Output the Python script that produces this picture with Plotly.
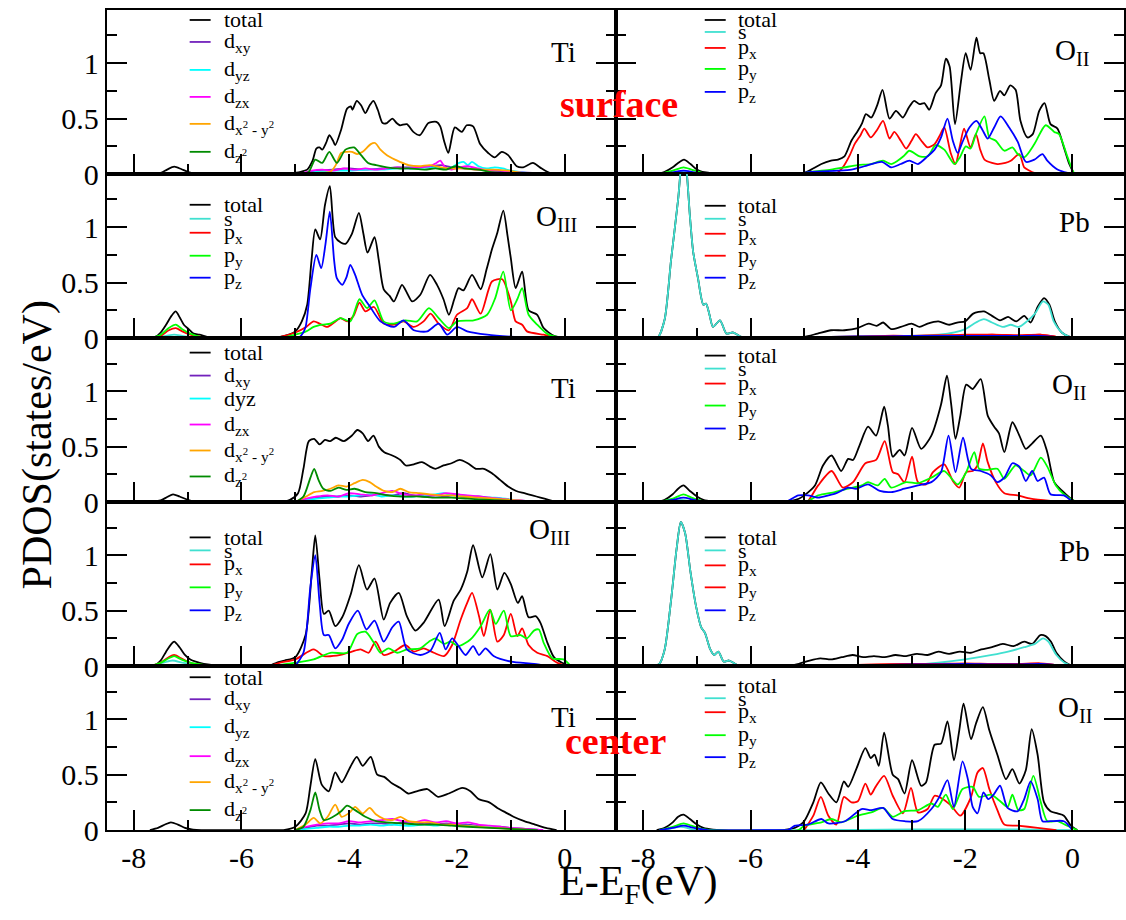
import plotly.graph_objects as go

W, H = 1126, 920
H_EFF = 905  # effective vertical pixel span observed for the paper coordinates

# ---------------- data (energy in eV, PDOS in states/eV) ----------------
# Ti surface
TI_SURF_TOTAL = [(-7.7,0),(-7.5,0.01),(-7.38,0.04),(-7.25,0.066),(-7.12,0.045),(-7.0,0.02),(-6.85,0.005),(-6.7,0),
 (-5.2,0),(-5.03,0.01),(-4.9,0.02),(-4.78,0.04),(-4.68,0.12),(-4.61,0.23),(-4.55,0.24),(-4.5,0.22),(-4.43,0.28),(-4.37,0.35),
 (-4.3,0.3),(-4.26,0.26),(-4.15,0.4),(-4.04,0.59),(-3.97,0.61),(-3.94,0.58),(-3.86,0.66),(-3.78,0.62),(-3.7,0.55),(-3.62,0.62),
 (-3.55,0.66),(-3.47,0.58),(-3.38,0.46),(-3.3,0.46),(-3.2,0.5),(-3.12,0.46),(-3.06,0.44),(-2.93,0.45),(-2.81,0.38),(-2.69,0.35),
 (-2.53,0.46),(-2.38,0.47),(-2.31,0.43),(-2.24,0.3),(-2.16,0.19),(-2.04,0.42),(-1.91,0.38),(-1.82,0.44),(-1.7,0.43),(-1.57,0.27),
 (-1.42,0.19),(-1.3,0.15),(-1.17,0.2),(-1.05,0.17),(-0.89,0.07),(-0.77,0.06),(-0.59,0.1),(-0.46,0.06),(-0.28,0.01),(-0.1,0)]
TI_SURF_DXY = [(-4.9,0),(-4.6,0.03),(-4.3,0.04),(-4.0,0.05),(-3.7,0.04),(-3.4,0.05),(-3.1,0.06),(-2.8,0.06),(-2.5,0.07),
 (-2.3,0.08),(-2.1,0.06),(-1.9,0.05),(-1.6,0.04),(-1.3,0.03),(-1.0,0.02),(-0.6,0.01),(-0.3,0)]
TI_SURF_DYZ = [(-4.9,0),(-4.6,0.02),(-4.3,0.03),(-4.0,0.03),(-3.7,0.04),(-3.4,0.04),(-3.1,0.05),(-2.8,0.05),(-2.5,0.06),
 (-2.3,0.05),(-2.1,0.06),(-1.96,0.1),(-1.88,0.11),(-1.8,0.08),(-1.72,0.11),(-1.6,0.07),(-1.45,0.05),(-1.3,0.06),(-1.15,0.05),
 (-1.0,0.03),(-0.7,0.01),(-0.4,0)]
TI_SURF_DZX = [(-4.9,0),(-4.7,0.03),(-4.5,0.04),(-4.3,0.03),(-4.1,0.05),(-3.9,0.04),(-3.7,0.05),(-3.5,0.04),(-3.3,0.05),
 (-3.1,0.06),(-2.9,0.05),(-2.7,0.06),(-2.5,0.07),(-2.38,0.1),(-2.31,0.12),(-2.22,0.06),(-2.1,0.04),(-1.95,0.06),(-1.8,0.07),
 (-1.6,0.05),(-1.4,0.03),(-1.2,0.03),(-1.0,0.02),(-0.7,0.01),(-0.4,0)]
TI_SURF_DX2 = [(-4.85,0),(-4.6,0.01),(-4.35,0.02),(-4.25,0.08),(-4.15,0.19),(-4.05,0.2),(-3.95,0.2),(-3.85,0.18),(-3.75,0.2),
 (-3.6,0.27),(-3.52,0.28),(-3.42,0.22),(-3.3,0.17),(-3.15,0.13),(-3.06,0.11),(-2.9,0.08),(-2.7,0.07),(-2.5,0.08),(-2.3,0.06),
 (-2.1,0.05),(-1.9,0.05),(-1.6,0.04),(-1.3,0.04),(-1.05,0.03),(-0.8,0.01),(-0.5,0)]
TI_SURF_DZ2 = [(-4.85,0),(-4.75,0.02),(-4.63,0.13),(-4.5,0.1),(-4.37,0.2),(-4.23,0.1),(-4.07,0.22),(-3.91,0.24),(-3.78,0.17),
 (-3.65,0.1),(-3.5,0.08),(-3.3,0.06),(-3.1,0.05),(-2.9,0.05),(-2.6,0.04),(-2.4,0.05),(-2.2,0.04),(-2.03,0.07),(-1.85,0.05),
 (-1.6,0.04),(-1.4,0.02),(-1.1,0.01),(-0.8,0.005),(-0.5,0)]

# O_II surface
OII_SURF_TOTAL = [(-7.75,0),(-7.6,0.02),(-7.45,0.06),(-7.35,0.1),(-7.24,0.13),(-7.12,0.09),(-7.0,0.04),(-6.9,0.02),(-6.75,0.01),(-6.6,0),
 (-5.2,0),(-5.0,0.01),(-4.87,0.04),(-4.68,0.09),(-4.5,0.12),(-4.37,0.13),(-4.25,0.16),(-4.12,0.3),(-4.0,0.39),(-3.92,0.46),
 (-3.85,0.54),(-3.75,0.51),(-3.64,0.62),(-3.54,0.76),(-3.41,0.5),(-3.29,0.57),(-3.16,0.51),(-3.05,0.6),(-2.95,0.66),(-2.85,0.63),
 (-2.76,0.64),(-2.67,0.58),(-2.55,0.73),(-2.45,0.8),(-2.36,1.04),(-2.29,0.97),(-2.19,0.45),(-2.08,0.83),(-1.99,1.09),(-1.9,0.94),
 (-1.79,1.23),(-1.72,1.09),(-1.66,1.09),(-1.55,0.85),(-1.46,0.66),(-1.35,0.75),(-1.27,0.71),(-1.16,0.8),(-1.06,0.76),(-0.97,0.48),
 (-0.84,0.33),(-0.74,0.36),(-0.62,0.57),(-0.52,0.64),(-0.41,0.45),(-0.28,0.41),(-0.16,0.24),(-0.06,0.09),(0.03,0)]
OII_SURF_S = [(-7.6,0),(-7.3,0.02),(-7.0,0),(-5.0,0),(-3.0,0.005),(-1.0,0.005),(0.0,0)]
OII_SURF_PX = [(-4.4,0),(-4.28,0.06),(-4.15,0.17),(-4.06,0.27),(-3.95,0.35),(-3.88,0.41),(-3.76,0.33),(-3.64,0.4),(-3.53,0.48),
 (-3.41,0.32),(-3.32,0.38),(-3.2,0.3),(-3.1,0.23),(-3.0,0.3),(-2.92,0.36),(-2.8,0.29),(-2.7,0.24),(-2.57,0.27),(-2.47,0.35),
 (-2.39,0.42),(-2.27,0.19),(-2.18,0.09),(-2.1,0.25),(-2.02,0.41),(-1.9,0.24),(-1.8,0.36),(-1.72,0.22),(-1.64,0.13),(-1.5,0.1),
 (-1.4,0.09),(-1.25,0.1),(-1.15,0.12),(-0.99,0.18),(-0.9,0.06),(-0.8,0.03),(-0.71,0.01),(-0.5,0)]
OII_SURF_PY = [(-7.7,0),(-7.45,0.03),(-7.25,0.06),(-7.1,0.04),(-6.9,0.01),(-6.7,0),(-5.1,0),(-4.87,0.02),(-4.5,0.04),(-4.25,0.06),
 (-4.0,0.08),(-3.76,0.09),(-3.53,0.12),(-3.38,0.09),(-3.26,0.12),(-3.15,0.16),(-3.04,0.21),(-2.85,0.16),(-2.7,0.16),(-2.55,0.26),
 (-2.39,0.22),(-2.2,0.09),(-2.1,0.15),(-1.99,0.25),(-1.9,0.23),(-1.8,0.36),(-1.64,0.52),(-1.55,0.33),(-1.43,0.3),(-1.27,0.21),
 (-1.12,0.24),(-1.02,0.18),(-0.9,0.15),(-0.71,0.27),(-0.5,0.44),(-0.34,0.38),(-0.25,0.36),(-0.09,0.15),(0.03,0.01),(0.1,0)]
OII_SURF_PZ = [(-7.7,0),(-7.45,0.015),(-7.25,0.03),(-7.05,0.015),(-6.8,0),(-5.15,0),(-4.87,0.02),(-4.37,0.03),(-4.12,0.04),
 (-3.88,0.07),(-3.55,0.11),(-3.38,0.06),(-3.2,0.09),(-3.04,0.12),(-2.88,0.09),(-2.7,0.16),(-2.57,0.22),(-2.45,0.33),(-2.33,0.5),
 (-2.23,0.3),(-2.14,0.19),(-2.05,0.29),(-1.92,0.42),(-1.79,0.48),(-1.68,0.4),(-1.58,0.32),(-1.46,0.42),(-1.34,0.52),(-1.18,0.42),
 (-1.02,0.29),(-0.87,0.11),(-0.71,0.13),(-0.56,0.18),(-0.47,0.12),(-0.28,0.04),(-0.09,0.01),(0.05,0)]

# O_III surface
OIII_SURF_TOTAL = [(-7.7,0),(-7.6,0.01),(-7.5,0.05),(-7.4,0.12),(-7.3,0.2),(-7.22,0.24),(-7.14,0.18),(-7.07,0.12),(-6.98,0.08),
 (-6.89,0.04),(-6.78,0.03),(-6.64,0.01),(-6.5,0),
 (-5.5,0),(-5.28,0.01),(-5.0,0.06),(-4.88,0.15),(-4.78,0.3),(-4.7,0.7),(-4.63,0.98),(-4.54,0.89),(-4.45,1.2),(-4.36,1.37),
 (-4.26,0.91),(-4.15,0.86),(-4.07,0.85),(-3.95,0.94),(-3.82,1.13),(-3.74,0.95),(-3.66,0.77),(-3.53,0.91),(-3.45,0.7),(-3.36,0.44),
 (-3.25,0.38),(-3.17,0.33),(-3.02,0.48),(-2.92,0.4),(-2.83,0.33),(-2.68,0.39),(-2.5,0.57),(-2.37,0.48),(-2.25,0.35),(-2.15,0.21),
 (-2.05,0.35),(-1.97,0.45),(-1.88,0.43),(-1.72,0.57),(-1.56,0.44),(-1.45,0.62),(-1.35,0.8),(-1.25,0.95),(-1.14,1.15),(-1.06,0.92),
 (-1.0,0.72),(-0.91,0.45),(-0.79,0.6),(-0.67,0.25),(-0.51,0.21),(-0.39,0.09),(-0.2,0.02),(0.0,0)]
OIII_SURF_S = [(-7.7,0),(-7.4,0.02),(-7.25,0.03),(-7.1,0.02),(-6.8,0),(-5.0,0),(-3.0,0.01),(-1.0,0.01),(0.0,0)]
OIII_SURF_PX = [(-7.7,0),(-7.5,0.02),(-7.35,0.07),(-7.22,0.09),(-7.1,0.06),(-6.95,0.03),(-6.75,0.01),(-6.55,0),(-5.5,0),
 (-5.28,0.01),(-5.0,0.05),(-4.8,0.1),(-4.66,0.15),(-4.55,0.13),(-4.41,0.1),(-4.28,0.14),(-4.16,0.18),(-4.04,0.15),(-3.92,0.2),
 (-3.81,0.32),(-3.7,0.24),(-3.54,0.28),(-3.36,0.13),(-3.17,0.12),(-2.99,0.15),(-2.8,0.1),(-2.62,0.15),(-2.49,0.22),(-2.34,0.13),
 (-2.15,0.07),(-2.0,0.21),(-1.81,0.27),(-1.72,0.35),(-1.56,0.22),(-1.35,0.51),(-1.16,0.53),(-1.0,0.33),(-0.91,0.15),(-0.79,0.12),
 (-0.7,0.06),(-0.39,0.03),(-0.1,0.005),(0.1,0)]
OIII_SURF_PY = [(-7.7,0),(-7.5,0.03),(-7.35,0.09),(-7.22,0.12),(-7.1,0.08),(-6.95,0.04),(-6.75,0.01),(-6.55,0),(-5.5,0),
 (-5.28,0.0),(-5.0,0.03),(-4.8,0.06),(-4.66,0.1),(-4.5,0.12),(-4.35,0.13),(-4.16,0.18),(-3.98,0.15),(-3.81,0.35),(-3.67,0.27),
 (-3.53,0.34),(-3.36,0.15),(-3.17,0.13),(-2.96,0.16),(-2.74,0.15),(-2.52,0.27),(-2.34,0.18),(-2.15,0.09),(-2.0,0.15),(-1.69,0.16),
 (-1.44,0.21),(-1.29,0.36),(-1.14,0.6),(-1.0,0.25),(-0.88,0.35),(-0.79,0.45),(-0.67,0.21),(-0.51,0.12),(-0.33,0.04),(-0.14,0.01),(0.05,0)]
OIII_SURF_PZ = [(-7.6,0),(-7.3,0.01),(-7.0,0),(-4.95,0),(-4.88,0.03),(-4.81,0.1),(-4.72,0.45),(-4.61,0.75),(-4.52,0.63),
 (-4.44,0.85),(-4.36,1.14),(-4.28,0.7),(-4.23,0.54),(-4.13,0.48),(-4.05,0.55),(-3.98,0.66),(-3.89,0.57),(-3.76,0.39),(-3.61,0.28),
 (-3.42,0.15),(-3.17,0.1),(-2.99,0.16),(-2.8,0.07),(-2.55,0.06),(-2.34,0.13),(-2.18,0.03),(-2.0,0.1),(-1.81,0.06),(-1.44,0.03),
 (-0.94,0.01),(-0.5,0)]

# Pb surface
PB_SURF_TOTAL = [(-7.8,0),(-7.72,0.01),(-7.6,0.17),(-7.48,0.71),(-7.35,1.25),(-7.26,1.7),(-7.2,1.55),(-7.13,1.1),(-7.07,0.78),
 (-6.98,0.54),(-6.88,0.3),(-6.83,0.31),(-6.77,0.22),(-6.7,0.1),(-6.57,0.16),(-6.45,0.04),(-6.33,0.05),(-6.17,0.01),(-6.0,0),
 (-5.2,0),(-5.0,0.01),(-4.75,0.04),(-4.5,0.07),(-4.25,0.07),(-4.0,0.09),(-3.8,0.13),(-3.65,0.11),(-3.53,0.14),(-3.38,0.08),
 (-3.2,0.1),(-3.0,0.13),(-2.85,0.1),(-2.7,0.13),(-2.5,0.15),(-2.3,0.12),(-2.15,0.14),(-2.0,0.15),(-1.85,0.22),(-1.65,0.24),
 (-1.5,0.2),(-1.35,0.16),(-1.2,0.19),(-1.05,0.15),(-0.9,0.2),(-0.78,0.14),(-0.65,0.28),(-0.53,0.36),(-0.43,0.3),(-0.33,0.15),
 (-0.2,0.05),(-0.05,0.01),(0.05,0)]
PB_SURF_S = [(-7.8,0),(-7.72,0.01),(-7.6,0.17),(-7.48,0.71),(-7.35,1.25),(-7.26,1.7),(-7.2,1.55),(-7.13,1.1),(-7.07,0.78),
 (-6.98,0.54),(-6.88,0.3),(-6.83,0.31),(-6.77,0.22),(-6.7,0.1),(-6.57,0.16),(-6.45,0.04),(-6.33,0.05),(-6.17,0.01),(-6.0,0),
 (-5.0,0),(-4.5,0.01),(-4.0,0.015),(-3.5,0.02),(-3.0,0.02),(-2.5,0.03),(-2.2,0.05),(-2.0,0.08),(-1.8,0.14),(-1.65,0.17),
 (-1.5,0.14),(-1.3,0.1),(-1.15,0.12),(-1.0,0.1),(-0.85,0.15),(-0.7,0.22),(-0.55,0.33),(-0.45,0.3),(-0.35,0.15),(-0.2,0.05),
 (-0.05,0.01),(0.05,0)]
PB_SURF_PX = [(-5.0,0),(-4.5,0.01),(-4.0,0.01),(-3.5,0.02),(-3.0,0.02),(-2.5,0.02),(-2.0,0.03),(-1.5,0.03),(-1.0,0.02),
 (-0.6,0.03),(-0.3,0.01),(0.0,0)]
PB_SURF_PY = [(-5.0,0),(-4.5,0.01),(-4.0,0.015),(-3.5,0.015),(-3.0,0.02),(-2.5,0.025),(-2.0,0.02),(-1.5,0.03),(-1.0,0.025),
 (-0.6,0.03),(-0.3,0.01),(0.0,0)]
PB_SURF_PZ = [(-5.0,0),(-4.5,0.01),(-4.0,0.015),(-3.5,0.015),(-3.0,0.02),(-2.5,0.02),(-2.0,0.02),(-1.5,0.02),(-1.0,0.02),
 (-0.6,0.02),(-0.3,0.01),(0.0,0)]

# Ti middle
TI_MID_TOTAL = [(-7.7,0),(-7.5,0.015),(-7.38,0.045),(-7.27,0.07),(-7.15,0.05),(-7.0,0.02),(-6.85,0.005),(-6.7,0),
 (-5.3,0),(-5.1,0.02),(-4.95,0.08),(-4.85,0.3),(-4.75,0.55),(-4.65,0.57),(-4.55,0.52),(-4.45,0.56),(-4.35,0.55),(-4.25,0.58),
 (-4.1,0.55),(-3.95,0.6),(-3.85,0.65),(-3.75,0.62),(-3.65,0.55),(-3.55,0.6),(-3.45,0.5),(-3.35,0.45),(-3.2,0.42),(-3.05,0.38),
 (-2.95,0.33),(-2.8,0.34),(-2.65,0.36),(-2.5,0.32),(-2.4,0.3),(-2.25,0.33),(-2.1,0.35),(-1.95,0.38),(-1.8,0.35),(-1.65,0.3),
 (-1.5,0.3),(-1.35,0.26),(-1.2,0.2),(-1.05,0.14),(-0.9,0.1),(-0.75,0.08),(-0.6,0.06),(-0.45,0.04),(-0.3,0.02),(-0.15,0)]
TI_MID_DXY = [(-5.0,0),(-4.8,0.02),(-4.6,0.04),(-4.4,0.05),(-4.2,0.05),(-4.0,0.06),(-3.8,0.05),(-3.6,0.06),(-3.4,0.07),
 (-3.2,0.06),(-3.0,0.08),(-2.8,0.06),(-2.6,0.05),(-2.4,0.06),(-2.2,0.05),(-2.0,0.07),(-1.8,0.05),(-1.6,0.05),(-1.4,0.04),
 (-1.2,0.03),(-1.0,0.02),(-0.7,0.01),(-0.4,0)]
TI_MID_DYZ = [(-5.0,0),(-4.8,0.02),(-4.6,0.03),(-4.4,0.04),(-4.2,0.05),(-4.0,0.05),(-3.8,0.06),(-3.6,0.07),(-3.4,0.05),
 (-3.2,0.06),(-3.0,0.05),(-2.8,0.05),(-2.6,0.06),(-2.4,0.07),(-2.25,0.08),(-2.1,0.06),(-1.9,0.06),(-1.7,0.05),(-1.5,0.04),
 (-1.3,0.04),(-1.1,0.03),(-0.8,0.01),(-0.5,0)]
TI_MID_DZX = [(-5.0,0),(-4.8,0.03),(-4.6,0.05),(-4.4,0.06),(-4.2,0.05),(-4.0,0.08),(-3.8,0.07),(-3.6,0.06),(-3.4,0.08),
 (-3.2,0.1),(-3.0,0.07),(-2.8,0.06),(-2.6,0.07),(-2.4,0.06),(-2.2,0.08),(-2.0,0.07),(-1.8,0.06),(-1.6,0.05),(-1.4,0.04),
 (-1.2,0.03),(-1.0,0.02),(-0.7,0.01),(-0.4,0)]
TI_MID_DX2 = [(-5.0,0),(-4.8,0.05),(-4.65,0.09),(-4.5,0.1),(-4.35,0.12),(-4.2,0.15),(-4.05,0.14),(-3.9,0.17),(-3.75,0.2),
 (-3.62,0.18),(-3.5,0.14),(-3.35,0.1),(-3.2,0.09),(-3.05,0.12),(-2.9,0.09),(-2.7,0.08),(-2.5,0.07),(-2.3,0.06),(-2.1,0.06),
 (-1.9,0.05),(-1.6,0.04),(-1.3,0.03),(-1.0,0.02),(-0.6,0.005),(-0.3,0)]
TI_MID_DZ2 = [(-5.0,0),(-4.85,0.05),(-4.72,0.22),(-4.65,0.3),(-4.57,0.2),(-4.48,0.12),(-4.35,0.1),(-4.2,0.13),(-4.05,0.11),
 (-3.9,0.12),(-3.7,0.09),(-3.5,0.08),(-3.3,0.06),(-3.0,0.05),(-2.7,0.05),(-2.4,0.04),(-2.1,0.04),(-1.8,0.03),(-1.4,0.02),
 (-1.0,0.01),(-0.5,0)]

# O_II middle
OII_MID_TOTAL = [(-7.75,0),(-7.6,0.02),(-7.45,0.07),(-7.35,0.12),(-7.25,0.15),(-7.13,0.1),(-7.0,0.05),(-6.88,0.02),(-6.7,0.005),(-6.55,0),
 (-5.4,0),(-5.24,0.01),(-5.1,0.03),(-5.0,0.06),(-4.8,0.15),(-4.65,0.33),(-4.49,0.42),(-4.31,0.28),(-4.18,0.39),(-4.09,0.38),
 (-3.97,0.51),(-3.81,0.68),(-3.66,0.6),(-3.51,0.86),(-3.44,0.69),(-3.35,0.41),(-3.22,0.47),(-3.13,0.42),(-2.99,0.67),(-2.82,0.48),
 (-2.63,0.6),(-2.45,0.88),(-2.34,1.14),(-2.26,0.88),(-2.18,0.57),(-2.09,0.78),(-1.98,1.06),(-1.86,1.02),(-1.71,1.11),(-1.58,0.78),
 (-1.46,0.68),(-1.37,0.62),(-1.27,0.45),(-1.12,0.72),(-0.99,0.6),(-0.87,0.48),(-0.75,0.53),(-0.59,0.6),(-0.47,0.45),(-0.34,0.18),
 (-0.19,0.1),(-0.03,0.03),(0.06,0)]
OII_MID_S = [(-7.6,0),(-7.3,0.02),(-7.0,0),(-5.0,0),(-3.0,0.005),(-1.0,0.005),(0.0,0)]
OII_MID_PX = [(-5.0,0),(-4.93,0.01),(-4.74,0.15),(-4.49,0.28),(-4.28,0.13),(-4.09,0.18),(-3.86,0.35),(-3.66,0.38),(-3.5,0.55),
 (-3.35,0.27),(-3.25,0.25),(-3.13,0.18),(-2.99,0.41),(-2.88,0.18),(-2.73,0.16),(-2.6,0.27),(-2.39,0.34),(-2.23,0.19),(-2.11,0.13),
 (-1.98,0.27),(-1.86,0.28),(-1.77,0.33),(-1.67,0.53),(-1.58,0.36),(-1.43,0.18),(-1.27,0.08),(-1.02,0.06),(-0.78,0.03),(-0.41,0.01),(-0.1,0)]
OII_MID_PY = [(-7.7,0),(-7.45,0.03),(-7.25,0.07),(-7.1,0.04),(-6.9,0.01),(-6.7,0),(-5.1,0),(-4.93,0.01),(-4.74,0.06),(-4.43,0.09),
 (-4.18,0.12),(-3.93,0.15),(-3.81,0.18),(-3.63,0.15),(-3.5,0.21),(-3.38,0.13),(-3.1,0.18),(-2.88,0.17),(-2.63,0.22),(-2.39,0.28),
 (-2.14,0.16),(-1.98,0.27),(-1.83,0.45),(-1.74,0.3),(-1.61,0.29),(-1.4,0.3),(-1.27,0.21),(-1.06,0.33),(-0.9,0.28),(-0.78,0.24),
 (-0.59,0.4),(-0.47,0.32),(-0.31,0.15),(-0.16,0.07),(0.03,0.01),(0.1,0)]
OII_MID_PZ = [(-7.7,0),(-7.45,0.02),(-7.25,0.04),(-7.05,0.02),(-6.8,0),(-5.4,0),(-5.3,0.01),(-5.11,0.06),(-4.93,0.06),(-4.74,0.04),
 (-4.55,0.06),(-4.4,0.08),(-4.18,0.13),(-4.03,0.12),(-3.81,0.16),(-3.59,0.1),(-3.38,0.09),(-3.13,0.12),(-2.88,0.15),(-2.63,0.18),
 (-2.45,0.27),(-2.31,0.6),(-2.18,0.27),(-2.04,0.58),(-1.89,0.3),(-1.71,0.28),(-1.52,0.24),(-1.4,0.18),(-1.27,0.22),(-1.12,0.35),
 (-0.99,0.32),(-0.87,0.19),(-0.75,0.28),(-0.65,0.19),(-0.53,0.22),(-0.41,0.07),(-0.16,0.06),(0.0,0)]

# O_III middle
OIII_MID_TOTAL = [(-7.7,0),(-7.6,0.01),(-7.5,0.05),(-7.4,0.13),(-7.3,0.2),(-7.25,0.22),(-7.15,0.17),(-7.05,0.1),(-6.95,0.06),
 (-6.85,0.04),(-6.7,0.02),(-6.55,0.01),(-6.4,0),
 (-5.5,0),(-5.35,0.03),(-5.2,0.05),(-5.0,0.08),(-4.81,0.28),(-4.69,0.88),(-4.63,1.18),(-4.55,0.78),(-4.47,0.47),(-4.38,0.5),
 (-4.26,0.36),(-4.13,0.44),(-3.97,0.65),(-3.82,0.91),(-3.67,0.69),(-3.53,0.79),(-3.36,0.42),(-3.24,0.57),(-3.08,0.66),(-2.93,0.45),
 (-2.77,0.32),(-2.62,0.39),(-2.34,0.6),(-2.23,0.36),(-2.06,0.59),(-1.93,0.69),(-1.81,0.85),(-1.7,1.09),(-1.53,0.8),(-1.38,1.01),
 (-1.25,0.69),(-1.12,0.84),(-1.0,0.74),(-0.87,0.57),(-0.79,0.63),(-0.67,0.44),(-0.54,0.45),(-0.45,0.39),(-0.32,0.21),(-0.2,0.08),
 (-0.05,0.03),(0.11,0)]
OIII_MID_S = [(-7.7,0),(-7.45,0.03),(-7.28,0.05),(-7.1,0.03),(-6.85,0.01),(-6.6,0),(-5.0,0),(-3.0,0.01),(-1.0,0.01),(0.0,0)]
OIII_MID_PX = [(-7.7,0),(-7.5,0.03),(-7.35,0.08),(-7.25,0.1),(-7.12,0.07),(-6.95,0.03),(-6.7,0.01),(-6.5,0),(-5.5,0),(-5.28,0.03),
 (-5.0,0.06),(-4.66,0.15),(-4.47,0.09),(-4.16,0.1),(-3.95,0.13),(-3.79,0.15),(-3.64,0.12),(-3.51,0.22),(-3.36,0.1),(-3.17,0.13),
 (-2.96,0.19),(-2.8,0.13),(-2.62,0.16),(-2.43,0.12),(-2.24,0.09),(-2.09,0.19),(-1.93,0.42),(-1.81,0.57),(-1.72,0.66),(-1.59,0.45),
 (-1.5,0.27),(-1.38,0.51),(-1.25,0.22),(-1.13,0.28),(-1.0,0.47),(-0.88,0.27),(-0.79,0.34),(-0.67,0.19),(-0.51,0.12),(-0.32,0.09),
 (-0.14,0.03),(0.05,0)]
OIII_MID_PY = [(-7.7,0),(-7.5,0.03),(-7.35,0.07),(-7.25,0.09),(-7.12,0.06),(-6.95,0.03),(-6.7,0.01),(-6.5,0),(-5.5,0),(-5.28,0.01),
 (-5.0,0.03),(-4.66,0.06),(-4.35,0.12),(-4.04,0.12),(-3.85,0.29),(-3.7,0.31),(-3.54,0.21),(-3.42,0.12),(-3.27,0.16),(-3.11,0.12),
 (-2.93,0.15),(-2.68,0.16),(-2.52,0.22),(-2.4,0.25),(-2.24,0.2),(-2.12,0.22),(-1.97,0.18),(-1.75,0.24),(-1.56,0.36),(-1.39,0.51),
 (-1.28,0.38),(-1.13,0.5),(-1.0,0.27),(-0.82,0.28),(-0.7,0.25),(-0.57,0.32),(-0.48,0.33),(-0.39,0.21),(-0.23,0.07),(-0.02,0.06),(0.11,0)]
OIII_MID_PZ = [(-7.6,0),(-7.3,0.01),(-7.0,0),(-5.1,0),(-5.0,0.01),(-4.85,0.12),(-4.72,0.72),(-4.63,1.0),(-4.55,0.57),(-4.47,0.28),
 (-4.38,0.28),(-4.26,0.16),(-4.13,0.24),(-4.01,0.38),(-3.84,0.5),(-3.68,0.33),(-3.53,0.41),(-3.36,0.22),(-3.2,0.35),(-3.08,0.4),
 (-2.93,0.15),(-2.68,0.1),(-2.49,0.14),(-2.32,0.3),(-2.21,0.15),(-2.09,0.25),(-1.97,0.18),(-1.84,0.1),(-1.7,0.18),(-1.59,0.1),
 (-1.47,0.16),(-1.32,0.09),(-1.0,0.04),(-0.57,0.02),(-0.3,0)]

# Pb middle
PB_MID_TOTAL = [(-7.8,0),(-7.7,0.02),(-7.6,0.15),(-7.48,0.6),(-7.38,1.05),(-7.3,1.3),(-7.22,1.2),(-7.12,0.85),(-7.02,0.55),
 (-6.92,0.35),(-6.85,0.3),(-6.75,0.15),(-6.68,0.1),(-6.6,0.13),(-6.5,0.04),(-6.4,0.05),(-6.25,0.01),(-6.1,0),
 (-5.3,0),(-5.1,0.02),(-4.9,0.05),(-4.7,0.07),(-4.5,0.06),(-4.3,0.08),(-4.1,0.1),(-3.9,0.08),(-3.7,0.09),(-3.5,0.08),(-3.3,0.1),
 (-3.1,0.09),(-2.9,0.11),(-2.7,0.1),(-2.5,0.13),(-2.3,0.11),(-2.1,0.13),(-1.9,0.12),(-1.7,0.15),(-1.5,0.17),(-1.3,0.2),(-1.1,0.18),
 (-0.9,0.22),(-0.75,0.2),(-0.6,0.28),(-0.5,0.27),(-0.4,0.22),(-0.3,0.12),(-0.15,0.04),(0.0,0)]
PB_MID_S = [(-7.8,0),(-7.7,0.02),(-7.6,0.15),(-7.48,0.6),(-7.38,1.05),(-7.3,1.3),(-7.22,1.2),(-7.12,0.85),(-7.02,0.55),
 (-6.92,0.35),(-6.85,0.3),(-6.75,0.15),(-6.68,0.1),(-6.6,0.13),(-6.5,0.04),(-6.4,0.05),(-6.25,0.01),(-6.1,0),
 (-3.0,0.01),(-2.5,0.03),(-2.0,0.06),(-1.5,0.1),(-1.2,0.13),(-0.9,0.17),(-0.7,0.2),(-0.55,0.25),(-0.45,0.22),(-0.3,0.1),
 (-0.15,0.03),(0.0,0)]
PB_MID_PX = [(-5.0,0),(-4.5,0.01),(-4.0,0.01),(-3.5,0.015),(-3.0,0.02),(-2.5,0.02),(-2.0,0.02),(-1.5,0.02),(-1.0,0.02),
 (-0.6,0.02),(-0.3,0.01),(0.0,0)]
PB_MID_PY = [(-5.0,0),(-4.5,0.01),(-4.0,0.01),(-3.5,0.015),(-3.0,0.02),(-2.5,0.02),(-2.0,0.025),(-1.5,0.02),(-1.0,0.02),
 (-0.6,0.025),(-0.3,0.01),(0.0,0)]
PB_MID_PZ = [(-5.0,0),(-4.5,0.005),(-4.0,0.01),(-3.5,0.01),(-3.0,0.015),(-2.5,0.015),(-2.0,0.02),(-1.5,0.015),(-1.0,0.015),
 (-0.6,0.02),(-0.3,0.01),(0.0,0)]

# Ti center
TI_CEN_TOTAL = [(-7.7,0),(-7.55,0.02),(-7.42,0.05),(-7.31,0.07),(-7.18,0.05),(-7.05,0.02),(-6.9,0.005),(-6.75,0),
 (-5.3,0),(-5.22,0.0),(-5.0,0.03),(-4.81,0.15),(-4.72,0.4),(-4.63,0.64),(-4.51,0.41),(-4.38,0.35),(-4.26,0.52),(-4.14,0.43),
 (-3.98,0.57),(-3.86,0.66),(-3.75,0.58),(-3.6,0.66),(-3.48,0.5),(-3.35,0.48),(-3.2,0.42),(-3.05,0.38),(-2.9,0.33),(-2.75,0.35),
 (-2.55,0.37),(-2.35,0.3),(-2.15,0.33),(-1.9,0.38),(-1.75,0.35),(-1.6,0.28),(-1.4,0.25),(-1.25,0.2),(-1.1,0.16),(-0.95,0.12),
 (-0.75,0.08),(-0.55,0.05),(-0.35,0.02),(-0.15,0)]
TI_CEN_DXY = [(-5.0,0),(-4.8,0.02),(-4.6,0.04),(-4.4,0.04),(-4.2,0.05),(-4.0,0.06),(-3.8,0.05),(-3.6,0.06),(-3.4,0.06),
 (-3.2,0.05),(-3.0,0.07),(-2.8,0.05),(-2.6,0.06),(-2.4,0.05),(-2.2,0.06),(-2.0,0.05),(-1.8,0.05),(-1.6,0.04),(-1.4,0.03),
 (-1.2,0.03),(-1.0,0.02),(-0.7,0.01),(-0.4,0)]
TI_CEN_DYZ = [(-5.0,0),(-4.8,0.01),(-4.6,0.02),(-4.4,0.03),(-4.2,0.03),(-4.0,0.04),(-3.8,0.04),(-3.6,0.05),(-3.4,0.04),
 (-3.2,0.05),(-3.0,0.04),(-2.8,0.04),(-2.6,0.05),(-2.4,0.04),(-2.2,0.05),(-2.0,0.04),(-1.8,0.04),(-1.6,0.03),(-1.4,0.03),
 (-1.2,0.02),(-1.0,0.01),(-0.6,0)]
TI_CEN_DZX = [(-5.0,0),(-4.8,0.03),(-4.6,0.05),(-4.4,0.06),(-4.2,0.06),(-4.0,0.08),(-3.8,0.07),(-3.6,0.08),(-3.4,0.09),
 (-3.2,0.1),(-3.0,0.08),(-2.8,0.07),(-2.6,0.09),(-2.4,0.07),(-2.2,0.08),(-2.0,0.06),(-1.8,0.07),(-1.6,0.05),(-1.4,0.04),
 (-1.2,0.03),(-1.0,0.02),(-0.7,0.01),(-0.4,0)]
TI_CEN_DX2 = [(-5.0,0),(-4.81,0.05),(-4.66,0.11),(-4.54,0.06),(-4.4,0.12),(-4.26,0.23),(-4.14,0.12),(-3.99,0.16),(-3.89,0.21),
 (-3.75,0.15),(-3.62,0.2),(-3.5,0.14),(-3.35,0.1),(-3.2,0.09),(-3.05,0.12),(-2.9,0.08),(-2.7,0.07),(-2.5,0.07),(-2.3,0.05),
 (-2.1,0.05),(-1.9,0.04),(-1.6,0.03),(-1.3,0.02),(-1.0,0.01),(-0.6,0)]
TI_CEN_DZ2 = [(-5.0,0),(-4.85,0.03),(-4.72,0.18),(-4.63,0.34),(-4.55,0.18),(-4.47,0.09),(-4.3,0.12),(-4.15,0.17),(-4.04,0.22),
 (-3.89,0.18),(-3.7,0.12),(-3.5,0.08),(-3.3,0.07),(-3.0,0.06),(-2.7,0.05),(-2.4,0.05),(-2.1,0.04),(-1.8,0.03),(-1.4,0.02),
 (-1.0,0.01),(-0.5,0)]

# O_II center
OII_CEN_TOTAL = [(-7.75,0),(-7.6,0.02),(-7.45,0.07),(-7.35,0.12),(-7.25,0.14),(-7.13,0.1),(-7.0,0.05),(-6.88,0.02),(-6.7,0.005),(-6.55,0),
 (-5.4,0),(-5.24,0.01),(-5.1,0.04),(-5.0,0.08),(-4.83,0.25),(-4.69,0.43),(-4.55,0.33),(-4.4,0.25),(-4.26,0.44),(-4.18,0.39),
 (-4.03,0.55),(-3.86,0.74),(-3.76,0.65),(-3.69,0.68),(-3.61,0.58),(-3.51,0.88),(-3.35,0.5),(-3.25,0.46),(-3.13,0.33),(-2.99,0.63),
 (-2.82,0.4),(-2.73,0.43),(-2.57,0.77),(-2.45,0.78),(-2.33,0.98),(-2.21,0.63),(-2.11,0.9),(-2.03,1.14),(-1.89,0.82),(-1.8,0.96),
 (-1.67,1.11),(-1.55,0.9),(-1.4,0.68),(-1.24,0.46),(-1.12,0.55),(-0.99,0.42),(-0.87,0.54),(-0.76,0.91),(-0.65,0.68),(-0.53,0.25),
 (-0.41,0.17),(-0.28,0.15),(-0.16,0.13),(-0.03,0.04),(0.09,0)]
OII_CEN_S = [(-7.6,0),(-7.3,0.03),(-7.0,0),(-5.0,0),(-3.0,0.005),(-1.0,0.005),(0.0,0)]
OII_CEN_PX = [(-5.0,0),(-4.83,0.13),(-4.69,0.3),(-4.55,0.13),(-4.4,0.05),(-4.26,0.3),(-4.12,0.25),(-4.0,0.26),(-3.86,0.42),
 (-3.76,0.32),(-3.67,0.39),(-3.51,0.49),(-3.35,0.31),(-3.16,0.15),(-3.01,0.38),(-2.88,0.16),(-2.7,0.19),(-2.57,0.31),(-2.45,0.29),
 (-2.26,0.22),(-2.09,0.13),(-1.89,0.3),(-1.77,0.52),(-1.67,0.56),(-1.55,0.37),(-1.4,0.18),(-1.27,0.05),(-1.02,0.04),(-0.65,0.02),(-0.3,0)]
OII_CEN_PY = [(-7.7,0),(-7.45,0.03),(-7.25,0.06),(-7.1,0.04),(-6.9,0.01),(-6.7,0),(-5.11,0),(-5.0,0.04),(-4.68,0.07),(-4.49,0.1),
 (-4.31,0.07),(-4.0,0.13),(-3.75,0.16),(-3.53,0.2),(-3.35,0.12),(-3.13,0.17),(-2.88,0.18),(-2.63,0.24),(-2.51,0.21),(-2.36,0.32),
 (-2.23,0.19),(-2.05,0.37),(-1.86,0.39),(-1.74,0.3),(-1.52,0.32),(-1.37,0.27),(-1.21,0.21),(-1.12,0.32),(-1.01,0.18),(-0.9,0.19),
 (-0.73,0.49),(-0.59,0.25),(-0.47,0.08),(-0.28,0.08),(-0.1,0.04),(0.09,0)]
OII_CEN_PZ = [(-7.7,0),(-7.45,0.02),(-7.25,0.04),(-7.05,0.02),(-6.8,0),(-5.4,0),(-5.3,0.0),(-5.17,0.04),(-4.93,0.05),(-4.68,0.1),
 (-4.55,0.06),(-4.24,0.08),(-3.93,0.19),(-3.75,0.18),(-3.53,0.2),(-3.35,0.1),(-3.13,0.08),(-2.88,0.08),(-2.63,0.19),(-2.48,0.3),
 (-2.33,0.45),(-2.21,0.21),(-2.05,0.62),(-1.95,0.46),(-1.86,0.21),(-1.77,0.15),(-1.66,0.34),(-1.57,0.28),(-1.47,0.32),(-1.35,0.4),
 (-1.21,0.2),(-1.02,0.17),(-0.9,0.28),(-0.78,0.44),(-0.65,0.28),(-0.56,0.08),(-0.41,0.08),(-0.16,0.08),(0.0,0)]

# ---------------- styling ----------------
C_TOTAL = '#000000'
C_DXY = '#7221bc'
C_DYZ = '#00ffff'
C_DZX = '#ff00ff'
C_DX2 = '#ffa500'
C_DZ2 = '#008b00'
C_S = '#40e0d0'
C_PX = '#ff0000'
C_PY = '#00ff00'
C_PZ = '#0000ff'
FONT = 'Liberation Serif, Times New Roman, Times, serif'

TI_LABELS = ['total', 'd<sub>xy</sub>', 'd<sub>yz</sub>', 'd<sub>zx</sub>',
             'd<sub>x<sup>2</sup> - y<sup>2</sup></sub>', 'd<sub>z<sup>2</sup></sub>']
TI_LABELS_MID = ['total', 'd<sub>xy</sub>', 'dyz', 'd<sub>zx</sub>',
                 'd<sub>x<sup>2</sup> - y<sup>2</sup></sub>', 'd<sub>z<sup>2</sup></sub>']
O_LABELS = ['total', 's', 'p<sub>x</sub>', 'p<sub>y</sub>', 'p<sub>z</sub>']
TI_COLORS = [C_TOTAL, C_DXY, C_DYZ, C_DZX, C_DX2, C_DZ2]
O_COLORS = [C_TOTAL, C_S, C_PX, C_PY, C_PZ]
PB_COLORS = [C_TOTAL, C_S, C_PX, C_PX, C_PZ]

# panel: (row, col, series, colors, legend labels, legend y px, title, title x px, title y px)
PANELS = [
    (0, 0, [TI_SURF_TOTAL, TI_SURF_DXY, TI_SURF_DYZ, TI_SURF_DZX, TI_SURF_DX2, TI_SURF_DZ2], TI_COLORS, TI_LABELS,
     [20, 42, 70, 97, 124, 152], 'Ti', 550, 52),
    (0, 1, [OII_SURF_TOTAL, OII_SURF_S, OII_SURF_PX, OII_SURF_PY, OII_SURF_PZ], O_COLORS, O_LABELS,
     [20, 32, 48, 69, 92], 'O<sub>II</sub>', 1055, 52),
    (1, 0, [OIII_SURF_TOTAL, OIII_SURF_S, OIII_SURF_PX, OIII_SURF_PY, OIII_SURF_PZ], O_COLORS, O_LABELS,
     [205, 219, 233, 256, 278], 'O<sub>III</sub>', 535, 218),
    (1, 1, [PB_SURF_TOTAL, PB_SURF_S, PB_SURF_PX, PB_SURF_PY, PB_SURF_PZ], PB_COLORS, O_LABELS,
     [206, 219, 234, 256, 278], 'Pb', 1059, 222),
    (2, 0, [TI_MID_TOTAL, TI_MID_DXY, TI_MID_DYZ, TI_MID_DZX, TI_MID_DX2, TI_MID_DZ2], TI_COLORS, TI_LABELS_MID,
     [353, 376, 399, 425, 451, 477], 'Ti', 550, 388),
    (2, 1, [OII_MID_TOTAL, OII_MID_S, OII_MID_PX, OII_MID_PY, OII_MID_PZ], O_COLORS, O_LABELS,
     [356, 369, 384, 406, 429], 'O<sub>II</sub>', 1052, 386),
    (3, 0, [OIII_MID_TOTAL, OIII_MID_S, OIII_MID_PX, OIII_MID_PY, OIII_MID_PZ], O_COLORS, O_LABELS,
     [538, 551, 565, 588, 611], 'O<sub>III</sub>', 528, 532),
    (3, 1, [PB_MID_TOTAL, PB_MID_S, PB_MID_PX, PB_MID_PY, PB_MID_PZ], PB_COLORS, O_LABELS,
     [538, 551, 566, 588, 611], 'Pb', 1059, 552),
    (4, 0, [TI_CEN_TOTAL, TI_CEN_DXY, TI_CEN_DYZ, TI_CEN_DZX, TI_CEN_DX2, TI_CEN_DZ2], TI_COLORS, TI_LABELS,
     [678, 700, 728, 757, 783, 811], 'Ti', 550, 718),
    (4, 1, [OII_CEN_TOTAL, OII_CEN_S, OII_CEN_PX, OII_CEN_PY, OII_CEN_PZ], O_COLORS, O_LABELS,
     [686, 699, 713, 736, 758], 'O<sub>II</sub>', 1058, 710),
]

X_TICKS = [-8, -6, -4, -2, 0]
X_TICKTEXT = ['-8', '-6', '-4', '-2', '0']
X_MINOR = [-7, -5, -3, -1]
Y_TICKS = [0, 0.5, 1]
Y_TICKTEXT = ['0', '0.5', '1']
Y_MINOR = [0.25, 0.75, 1.25]
X_RANGE = [-8.5, 0.96]
Y_RANGE = [0, 1.48]

TOP, BOTTOM = 10, 831
ROW_H = (BOTTOM - TOP) / 5
COL_X = [(107, 617.5), (617.5, 1126)]


def px(x):
    return x / W


def py(y):
    return 1 - y / H_EFF


fig = go.Figure()
layout = dict(width=W, height=H, margin=dict(l=0, r=0, t=0, b=0),
              plot_bgcolor='white', paper_bgcolor='white', showlegend=False,
              font=dict(family=FONT, color='black'))
shapes = []
annotations = []

for k, (row, col, series, colors, labels, leg_y, title, tx, ty) in enumerate(PANELS, start=1):
    xa = 'x' if k == 1 else f'x{k}'
    ya = 'y' if k == 1 else f'y{k}'
    for pts, c in zip(series, colors):
        fig.add_trace(go.Scatter(x=[p[0] for p in pts], y=[p[1] for p in pts], xaxis=xa, yaxis=ya,
                                 mode='lines', hoverinfo='skip',
                                 line=dict(color=c, width=1.8, shape='spline', smoothing=0.7)))
    top = TOP + row * ROW_H
    bot = top + ROW_H
    x0, x1 = COL_X[col]
    bottom_row = row == 4
    layout['xaxis' if k == 1 else f'xaxis{k}'] = dict(
        domain=[px(x0), min(1.0, px(x1))], range=X_RANGE, anchor=ya,
        showline=True, linecolor='black', linewidth=2, mirror=True,
        ticks='inside', ticklen=20, tickwidth=1.5, tickcolor='black',
        tickmode='array', tickvals=X_TICKS, ticktext=X_TICKTEXT,
        showticklabels=bottom_row, tickfont=dict(family=FONT, size=30, color='black'),
        minor=dict(tickmode='array', tickvals=X_MINOR, ticks='inside', ticklen=10, tickwidth=1.5, tickcolor='black'),
        showgrid=False, zeroline=False, fixedrange=True)
    layout['yaxis' if k == 1 else f'yaxis{k}'] = dict(
        domain=[max(0.0, py(bot)), min(1.0, py(top))], range=Y_RANGE, anchor=xa,
        showline=True, linecolor='black', linewidth=2, mirror='ticks',
        ticks='inside', ticklen=20, tickwidth=1.5, tickcolor='black',
        tickmode='array', tickvals=Y_TICKS, ticktext=Y_TICKTEXT,
        showticklabels=(col == 0), tickfont=dict(family=FONT, size=30, color='black'),
        minor=dict(tickmode='array', tickvals=Y_MINOR, ticks='inside', ticklen=10, tickwidth=1.5, tickcolor='black'),
        showgrid=False, zeroline=False, fixedrange=True)

    # legend
    lx0, lx1, ltx = (190, 211, 222) if col == 0 else (706, 727, 737)
    for yv, lab, c in zip(leg_y, labels, colors):
        shapes.append(dict(type='line', xref='paper', yref='paper', x0=px(lx0), x1=px(lx1), y0=py(yv), y1=py(yv),
                           line=dict(color=c, width=1.8)))
        annotations.append(dict(text=lab, xref='paper', yref='paper', x=px(ltx), y=py(yv),
                                xanchor='left', yanchor='middle', showarrow=False,
                                font=dict(family=FONT, size=22, color='black')))
    annotations.append(dict(text=title, xref='paper', yref='paper', x=px(tx), y=py(ty),
                            xanchor='left', yanchor='middle', showarrow=False,
                            font=dict(family=FONT, size=29, color='black')))

annotations.append(dict(text='surface', xref='paper', yref='paper', x=px(620), y=py(104),
                        xanchor='center', yanchor='middle', showarrow=False,
                        font=dict(family=FONT, size=38, color='red', weight='bold')))
annotations.append(dict(text='center', xref='paper', yref='paper', x=px(617), y=py(742),
                        xanchor='center', yanchor='middle', showarrow=False,
                        font=dict(family=FONT, size=38, color='red', weight='bold')))
annotations.append(dict(text='PDOS(states/eV)', xref='paper', yref='paper', x=px(38), y=py(445),
                        xanchor='center', yanchor='middle', textangle=-90, showarrow=False,
                        font=dict(family=FONT, size=42, color='black')))
annotations.append(dict(text='E-E<sub>F</sub>(eV)', xref='paper', yref='paper', x=px(640), y=py(885),
                        xanchor='center', yanchor='middle', showarrow=False,
                        font=dict(family=FONT, size=42, color='black')))

layout['shapes'] = shapes
layout['annotations'] = annotations
fig.update_layout(**layout)
fig.write_html('out.html')
